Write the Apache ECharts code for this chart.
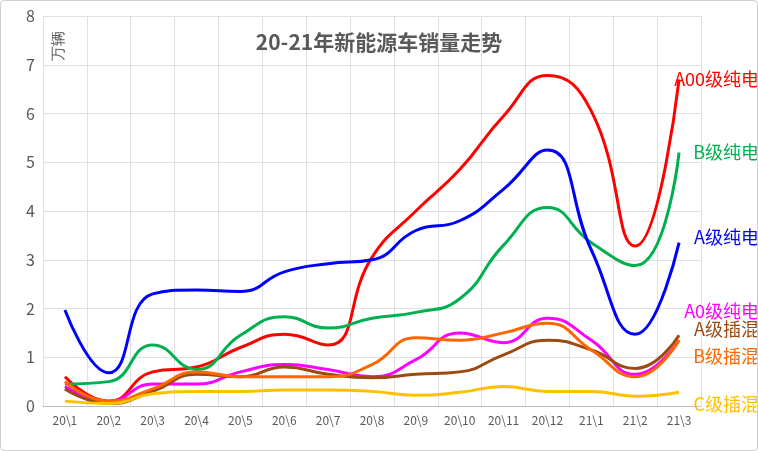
<!DOCTYPE html><html><head><meta charset="utf-8"><script src="https://cdn.jsdelivr.net/npm/echarts@6/dist/echarts.min.js"></script>
<style>body{margin:0}#c{width:756px;height:449px;border:1px solid #d0d0d0;border-radius:4px}</style></head><body><div id="c"></div><script>
const categories=['20\\1','20\\2','20\\3','20\\4','20\\5','20\\6','20\\7','20\\8','20\\9','20\\10','20\\11','20\\12','21\\1','21\\2','21\\3'];
const a00=[0.6,0.1,0.7,0.8,1.2,1.47,1.25,3.05,4.0,4.85,5.95,6.78,6.05,3.28,6.7];
const bEV=[0.45,0.5,1.25,0.75,1.45,1.83,1.6,1.8,1.92,2.2,3.3,4.07,3.35,2.88,5.2];
const aEV=[1.97,0.68,2.3,2.38,2.35,2.75,2.92,3.0,3.6,3.8,4.45,5.25,3.2,1.47,3.35];
const a0EV=[0.4,0.1,0.45,0.45,0.7,0.85,0.75,0.6,0.95,1.5,1.3,1.8,1.35,0.65,1.35];
const aPH=[0.35,0.05,0.3,0.65,0.6,0.8,0.65,0.58,0.65,0.7,1.05,1.35,1.15,0.77,1.45];
const bPH=[0.5,0.1,0.35,0.7,0.6,0.6,0.6,0.85,1.4,1.35,1.5,1.7,1.15,0.6,1.35];
const cPH=[0.1,0.05,0.25,0.3,0.3,0.33,0.33,0.3,0.22,0.28,0.4,0.3,0.3,0.2,0.28];
const yTicks=[0,1,2,3,4,5,6,7,8];
function s(name,data,color,dy){return {name,type:'line',data,smooth:0.5,symbol:'none',lineStyle:{width:3,color},itemStyle:{color},
 endLabel:{show:true,formatter:name,color,fontSize:18,align:'right',offset:[72,dy]}};}
const chart=echarts.init(document.getElementById('c'));
chart.setOption({animation:false,textStyle:{fontFamily:'Noto Sans CJK SC'},
title:{text:'20-21年新能源车销量走势',left:'center',top:26,textStyle:{fontSize:21,fontWeight:'bold',color:'#595959'}},
graphic:[{type:'text',left:50,top:30,rotation:Math.PI/2,style:{text:'万辆',fontSize:15,fill:'#595959'}}],
grid:{left:42,right:56,top:15,bottom:44},
xAxis:{type:'category',data:categories,axisLine:{lineStyle:{color:'#bfbfbf'}},axisTick:{show:false},splitLine:{show:true,interval:0,lineStyle:{color:'#e0e0e0'}},axisLabel:{color:'#595959',fontSize:12,interval:0}},
yAxis:{type:'value',min:0,max:8,interval:1,axisLabel:{color:'#595959',fontSize:16,formatter:v=>yTicks.includes(v)?String(v):''},splitLine:{lineStyle:{color:'#e0e0e0'}}},
series:[s('A00级纯电',a00,'#ff0000',0),s('B级纯电',bEV,'#00b050',0),s('A级纯电',aEV,'#0000ff',-6),s('A0级纯电',a0EV,'#ff00ff',-29),
s('A级插混',aPH,'#9c4a0e',-6),s('B级插混',bPH,'#ff6600',16),s('C级插混',cPH,'#ffc000',12)]});
</script></body></html>
